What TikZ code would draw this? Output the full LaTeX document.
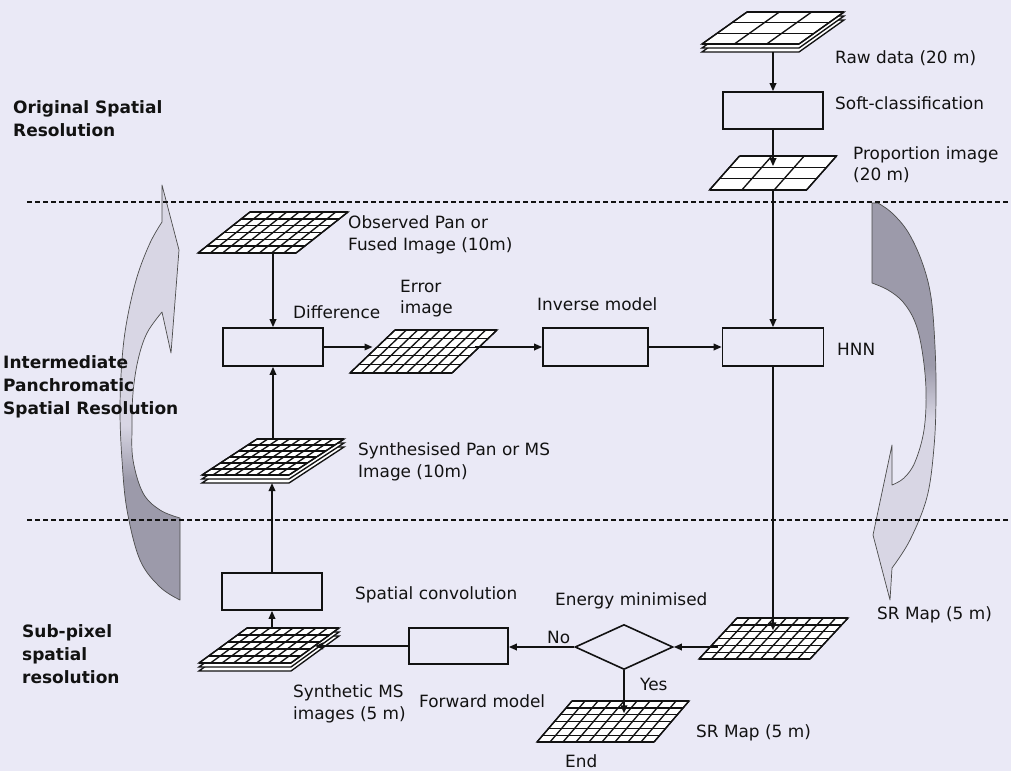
\documentclass[tikz,border=0pt]{standalone}
\usepackage{fontspec}
\setmainfont{DejaVu Sans}
\usetikzlibrary{arrows.meta,shapes.geometric}
\definecolor{bgc}{RGB}{234,233,246}
\definecolor{swlight}{RGB}{216,214,228}
\definecolor{swdark}{RGB}{156,154,170}
\definecolor{ink}{RGB}{18,18,18}
\tikzset{
  gridln/.style={line width=1.35pt, draw=ink, line join=miter},
  procbox/.style={draw=ink, line width=1.6pt, inner sep=0pt},
  flow/.style={line width=1.7pt, draw=ink, -{Triangle[length=8pt,width=6.5pt]}},
  lbl/.style={anchor=base west, inner sep=0pt, font=\fontsize{16.9}{20}\selectfont, text=ink},
  zonelbl/.style={anchor=base west, inner sep=0pt, font=\fontsize{17}{20}\selectfont\bfseries, text=ink},
  sepline/.style={dash pattern=on 5pt off 3pt, line width=1.2pt, draw=ink},
  swline/.style={draw=black!70, line width=0.7pt, line join=round}
}
% #1 name, #2 x0 (bottom-left), #3 y0, #4 width, #5 height, #6 slant, #7 cols, #8 rows, #9 layers
\newcommand{\imggrid}[9]{%
  \foreach \k in {#9,...,1}{%
    \pgfmathsetmacro{\off}{(\k-1)*4}
    \filldraw[gridln,fill=white] ({#2},{#3+\off}) -- ({#2+#4},{#3+\off}) -- ({#2+#4+#6},{#3-#5+\off}) -- ({#2+#6},{#3-#5+\off}) -- cycle;
  }
  \foreach \i in {0,...,#7}{%
    \draw[gridln] ({#2+\i*#4/#7},{#3}) -- ({#2+#6+\i*#4/#7},{#3-#5});
  }
  \foreach \j in {0,...,#8}{%
    \draw[gridln] ({#2+\j*#6/#8},{#3-\j*#5/#8}) -- ({#2+#4+\j*#6/#8},{#3-\j*#5/#8});
  }
  \coordinate (#1-c) at ({#2+#6/2+#4/2},{#3-#5/2});
  \coordinate (#1-top) at ({#2+#6/2+#4/2},{#3-#5});
  \coordinate (#1-in) at ({#2+#6/2+#4/2},{#3-0.7*#5});
  \coordinate (#1-bot) at ({#2+#6/2+#4/2},{#3+(#9-1)*4});
  \coordinate (#1-w) at ({#2+#6/2},{#3-#5/2});
  \coordinate (#1-e) at ({#2+#4+#6/2},{#3-#5/2});
}
\newcommand{\leftswoosh}{(162,185) -- (162,222)
  -- plot[smooth,tension=0.6] coordinates {(162,222) (150,243) (137,277) (127,320) (122,360) (120,410) (122,460) (127,510) (140,560) (160,587) (180,600)}
  -- (180,518)
  -- plot[smooth,tension=0.6] coordinates {(180,518) (160,510) (143,493) (133,460) (132,427) (133,393) (138,360) (147,333) (162,312)}
  -- (171,353) -- (179,250) -- cycle}
\newcommand{\rightswoosh}{(872,203) -- (872,283)
  -- plot[smooth,tension=0.6] coordinates {(872,283) (888,290) (903,302) (915,322) (922,350) (926,390) (924,430) (915,462) (904,478) (892,485)}
  -- (892,445) -- (873,535) -- (890,600) -- (892,568)
  -- plot[smooth,tension=0.6] coordinates {(892,568) (910,540) (927,497) (934,447) (936,397) (935,347) (931,297) (922,262) (908,232) (892,213) (878,203)}
  -- cycle}
\begin{document}
\begin{tikzpicture}[x=1pt,y=-1pt]
\fill[bgc] (0,0) rectangle (1011,771);
\useasboundingbox (0,0) rectangle (1011,771);

% big curved arrows
\begin{scope}
  \clip \leftswoosh;
  \fill[swlight] (100,170) rectangle (200,425);
  \shade[top color=swlight, bottom color=swdark] (100,425) rectangle (200,480);
  \fill[swdark] (100,480) rectangle (200,610);
\end{scope}
\draw[swline] \leftswoosh;
\begin{scope}
  \clip \rightswoosh;
  \fill[swdark] (860,195) rectangle (950,365);
  \shade[top color=swdark, bottom color=swlight] (860,365) rectangle (950,420);
  \fill[swlight] (860,420) rectangle (950,610);
\end{scope}
\draw[swline] \rightswoosh;

% resolution boundaries
\draw[sepline] (27,202) -- (1011,202);
\draw[sepline] (27,520) -- (1011,520);

% image grids
\imggrid{raw}{702}{44}{97}{32}{45}{3}{3}{3}
\imggrid{prop}{709.5}{190}{97}{34}{30}{3}{3}{1}
\imggrid{obs}{198}{253}{98}{41}{52}{8}{6}{1}
\imggrid{err}{350}{373}{102}{43}{45}{9}{5}{1}
\imggrid{synp}{202}{475}{87}{36}{55}{8}{6}{3}
\imggrid{synms}{199}{663}{92}{35}{48}{8}{5}{3}
\imggrid{srr}{699}{659}{111}{41}{38}{9}{6}{1}
\imggrid{srb}{537}{742}{117}{41}{35}{9}{6}{1}

% process boxes
\node[procbox, minimum width=100pt, minimum height=37pt] (soft) at (773,110.5) {};
\node[procbox, minimum width=100pt, minimum height=38pt] (diff) at (273,347) {};
\node[procbox, minimum width=105pt, minimum height=38pt] (inv) at (595.5,347) {};
\node[procbox, minimum width=101pt, minimum height=38pt] (hnn) at (773,347) {};
\node[procbox, minimum width=100pt, minimum height=37pt] (spc) at (272,591.5) {};
\node[procbox, minimum width=99pt, minimum height=36pt] (fwd) at (458.5,646) {};
\node[procbox, diamond, minimum width=98pt, minimum height=45pt] (dia) at (624,647) {};

% connectors
\draw[flow] (raw-bot) -- (soft.north);
\draw[flow] (soft.south) -- (soft.south |- prop-in);
\draw[flow] (soft.south |- prop-bot) -- (hnn.north);
\draw[flow] (hnn.south) -- (hnn.south |- srr-in);
\draw[flow] (srr-w |- dia.east) -- (dia.east);
\draw[flow] (dia.west) -- (dia.west -| fwd.east);
\draw[flow] (fwd.west) -- (fwd.west -| synms-e);
\draw[flow] (dia.south) -- (dia.south |- srb-in);
\draw[flow] (spc.south |- synms-top) -- (spc.south);
\draw[flow] (spc.north) -- (spc.north |- synp-bot);
\draw[flow] (diff.south |- synp-top) -- (diff.south);
\draw[flow] (diff.north |- obs-bot) -- (diff.north);
\draw[flow] (diff.east) -- (diff.east -| err-w);
\draw[flow] (err-e |- inv.west) -- (inv.west);
\draw[flow] (inv.east) -- (hnn.west);

% zone labels
\node[zonelbl] (z1a) at (13,113) {Original Spatial};
\node[zonelbl] (z1b) at (13,136) {Resolution};
\node[zonelbl] (z2a) at (3,368) {Intermediate};
\node[zonelbl] (z2b) at (3,391) {Panchromatic};
\node[zonelbl] (z2c) at (3,414) {Spatial Resolution};
\node[zonelbl] (z3a) at (22,637) {Sub-pixel};
\node[zonelbl] (z3b) at (22,660) {spatial};
\node[zonelbl] (z3c) at (22,683) {resolution};

% element labels
\node[lbl] (t1) at (835,63) {Raw data (20 m)};
\node[lbl] (t2) at (835,109) {Soft-classification};
\node[lbl] (t3a) at (853,159) {Proportion image};
\node[lbl] (t3b) at (853,180) {(20 m)};
\node[lbl] (t4a) at (348,228) {Observed Pan or};
\node[lbl] (t4b) at (348,250) {Fused Image (10m)};
\node[lbl] (t5) at (293,318) {Difference};
\node[lbl] (t6a) at (400,292) {Error};
\node[lbl] (t6b) at (400,313) {image};
\node[lbl] (t7) at (537,310) {Inverse model};
\node[lbl] (t8) at (837,355) {HNN};
\node[lbl] (t9a) at (358,455) {Synthesised Pan or MS};
\node[lbl] (t9b) at (358,477) {Image (10m)};
\node[lbl] (t10) at (355,599) {Spatial convolution};
\node[lbl] (t11a) at (293,697) {Synthetic MS};
\node[lbl] (t11b) at (293,719) {images (5 m)};
\node[lbl] (t12) at (419,707) {Forward model};
\node[lbl] (t13) at (555,605) {Energy minimised};
\node[lbl] (t14) at (547,643) {No};
\node[lbl] (t15) at (640,690) {Yes};
\node[lbl] (t16) at (877,619) {SR Map (5 m)};
\node[lbl] (t17) at (696,737) {SR Map (5 m)};
\node[lbl] (t18) at (565,767) {End};
\end{tikzpicture}
\end{document}
